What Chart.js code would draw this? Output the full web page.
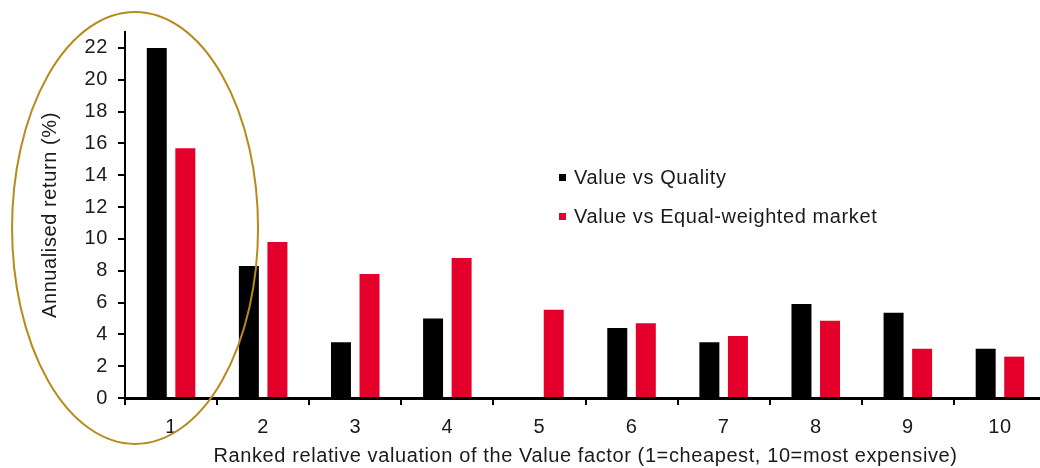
<!DOCTYPE html>
<html>
<head>
<meta charset="utf-8">
<script src="https://cdn.jsdelivr.net/npm/chart.js@4.4.1/dist/chart.umd.min.js"></script>
<style>
  html, body { margin: 0; padding: 0; background: #fff; overflow: hidden; }
  #wrap { width: 1040px; height: 468px; position: relative; overflow: hidden; }
</style>
</head>
<body>
<div id="wrap"><canvas id="c" width="1046" height="468"></canvas></div>
<script>
/* Données */
const categories = ['1', '2', '3', '4', '5', '6', '7', '8', '9', '10'];
const valueVsQuality = [22.0, 8.3, 3.5, 5.0, 0, 4.4, 3.5, 5.9, 5.35, 3.1];
const valueVsEqualWeighted = [15.7, 9.8, 7.8, 8.8, 5.55, 4.7, 3.9, 4.85, 3.1, 2.6];
const seriesLabels = ['Value vs Quality', 'Value vs Equal-weighted market'];
const yTitle = 'Annualised return (%)';
const xTitle = 'Ranked relative valuation of the Value factor (1=cheapest, 10=most expensive)';

const COL = { black: '#000000', red: '#e5002b', text: '#1a1a1a', ring: '#b8891c' };
const FONT = "'Liberation Sans', Arial, sans-serif";
const FS = 20;

/* léger interlettrage, le rendu d'origine est un peu plus large */
const spacing = {
  id: 'spacing',
  beforeDraw(chart) { chart.ctx.letterSpacing = '0.6px'; },
};

/* légende dessinée à la main, au milieu du graphique */
const sideLegend = {
  id: 'sideLegend',
  afterDraw(chart) {
    const { ctx } = chart;
    ctx.save();
    ctx.font = FS + 'px ' + FONT;
    ctx.textBaseline = 'middle';
    chart.data.datasets.forEach((ds, i) => {
      const y = 178 + i * 39;
      ctx.fillStyle = ds.backgroundColor;
      ctx.fillRect(559, y - 4, 7, 7);
      ctx.fillStyle = COL.text;
      ctx.fillText(ds.label, 574, y);
    });
    ctx.restore();
  },
};

/* ellipse qui entoure la première catégorie */
const ring = {
  id: 'ring',
  afterDraw(chart) {
    const { ctx, scales } = chart;
    const cx = scales.x.getPixelForValue(0) - 36;
    const cy = scales.y.getPixelForValue(11) + 5;
    ctx.save();
    ctx.strokeStyle = COL.ring;
    ctx.lineWidth = 2;
    ctx.beginPath();
    ctx.ellipse(cx, cy, 123, 216, 0, 0, Math.PI * 2);
    ctx.stroke();
    ctx.restore();
  },
};

new Chart(document.getElementById('c').getContext('2d'), {
  type: 'bar',
  data: {
    labels: categories,
    datasets: [
      { label: seriesLabels[0], data: valueVsQuality, backgroundColor: COL.black },
      { label: seriesLabels[1], data: valueVsEqualWeighted, backgroundColor: COL.red },
    ],
  },
  options: {
    responsive: false,
    animation: false,
    categoryPercentage: 0.62,
    barPercentage: 0.7,
    layout: { padding: { left: 38, top: 32, right: 0, bottom: 0 } },
    plugins: { legend: { display: false }, tooltip: { enabled: false } },
    scales: {
      x: {
        grid: { drawOnChartArea: false, drawTicks: true, tickLength: 7, color: COL.black, lineWidth: 2 },
        border: { display: true, color: COL.black, width: 3 },
        ticks: { color: COL.text, font: { family: FONT, size: FS }, padding: 10, maxRotation: 0 },
        title: { display: true, text: xTitle, color: COL.text, font: { family: FONT, size: FS }, padding: 0 },
        afterFit(scale) { scale.height = 70; },
      },
      y: {
        min: 0, max: 23,
        grid: { drawOnChartArea: false, drawTicks: true, tickLength: 7, color: COL.black, lineWidth: 2 },
        border: { display: true, color: COL.black, width: 2 },
        ticks: { stepSize: 2, includeBounds: false, color: COL.text, font: { family: FONT, size: FS }, padding: 10 },
        title: { display: true, text: yTitle, color: COL.text, font: { family: FONT, size: FS }, padding: 0 },
        afterFit(scale) { scale.width = 87; },
      },
    },
  },
  plugins: [spacing, sideLegend, ring],
});
</script>
</body>
</html>
